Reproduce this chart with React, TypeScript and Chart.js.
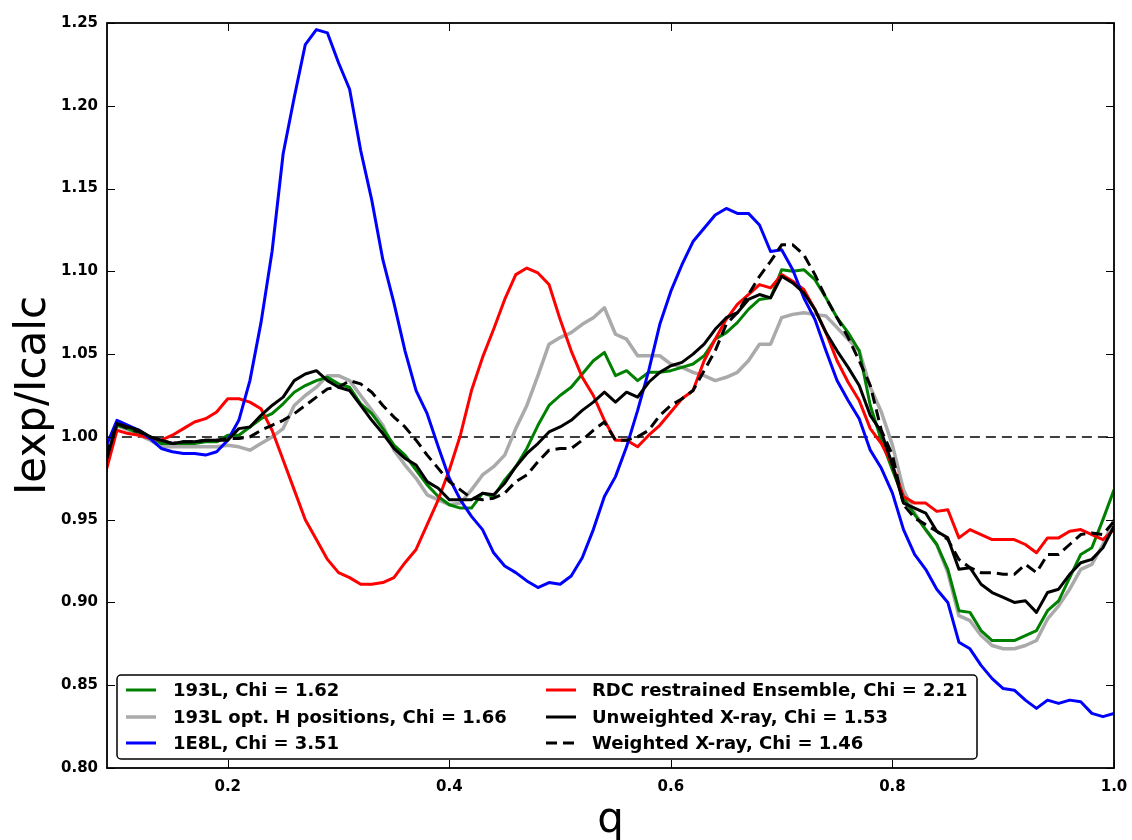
import React, { useEffect, useRef } from "react";
import { Chart, registerables } from "chart.js";

Chart.register(...registerables);

const Q = [
  0.09, 0.10, 0.11, 0.12, 0.13, 0.14, 0.15, 0.16, 0.17, 0.18,
  0.19, 0.20, 0.21, 0.22, 0.23, 0.24, 0.25, 0.26, 0.27, 0.28,
  0.29, 0.30, 0.31, 0.32, 0.33, 0.34, 0.35, 0.36, 0.37, 0.38,
  0.39, 0.40, 0.41, 0.42, 0.43, 0.44, 0.45, 0.46, 0.47, 0.48,
  0.49, 0.50, 0.51, 0.52, 0.53, 0.54, 0.55, 0.56, 0.57, 0.58,
  0.59, 0.60, 0.61, 0.62, 0.63, 0.64, 0.65, 0.66, 0.67, 0.68,
  0.69, 0.70, 0.71, 0.72, 0.73, 0.74, 0.75, 0.76, 0.77, 0.78,
  0.79, 0.80, 0.81, 0.82, 0.83, 0.84, 0.85, 0.86, 0.87, 0.88,
  0.89, 0.90, 0.91, 0.92, 0.93, 0.94, 0.95, 0.96, 0.97, 0.98,
  0.99, 1.00,
];

const Y_193L = [
  0.985, 1.007, 1.005, 1.002, 1.000, 0.996, 0.996, 0.996, 0.996, 0.997,
  0.997, 1.001, 1.001, 1.006, 1.011, 1.014, 1.020, 1.027, 1.031, 1.034,
  1.036, 1.032, 1.030, 1.020, 1.014, 1.005, 0.995, 0.989, 0.980, 0.971,
  0.964, 0.959, 0.957, 0.957, 0.966, 0.964, 0.974, 0.982, 0.993, 1.007,
  1.019, 1.025, 1.030, 1.038, 1.046, 1.051, 1.037, 1.040, 1.034, 1.039,
  1.039, 1.040, 1.042, 1.044, 1.049, 1.059, 1.063, 1.069, 1.077, 1.083,
  1.084, 1.101, 1.100, 1.101, 1.095, 1.084, 1.072, 1.063, 1.052, 1.019,
  0.998, 0.980, 0.963, 0.953, 0.944, 0.935, 0.920, 0.895, 0.894, 0.883,
  0.877, 0.877, 0.877, 0.880, 0.883, 0.895, 0.901, 0.915, 0.929, 0.933,
  0.950, 0.968,
];

const Y_193L_OPT_H = [
  0.987, 1.007, 1.004, 1.001, 0.998, 0.994, 0.994, 0.994, 0.994, 0.994,
  0.994, 0.995, 0.994, 0.992, 0.996, 1.000, 1.005, 1.019, 1.025, 1.030,
  1.037, 1.037, 1.034, 1.025, 1.016, 1.007, 0.992, 0.983, 0.975, 0.965,
  0.962, 0.959, 0.960, 0.968, 0.977, 0.982, 0.989, 1.005, 1.019, 1.037,
  1.056, 1.060, 1.063, 1.068, 1.072, 1.078, 1.062, 1.059, 1.049, 1.049,
  1.049, 1.044, 1.042, 1.039, 1.037, 1.034, 1.036, 1.039, 1.046, 1.056,
  1.056, 1.072, 1.074, 1.075, 1.074, 1.073, 1.066, 1.059, 1.052, 1.030,
  1.015, 0.995, 0.968, 0.954, 0.944, 0.935, 0.918, 0.892, 0.889, 0.880,
  0.874, 0.872, 0.872, 0.874, 0.877, 0.890, 0.898, 0.908, 0.920, 0.923,
  0.935, 0.950,
];

const Y_1E8L = [
  0.994, 1.010, 1.007, 1.004, 0.999, 0.993, 0.991, 0.990, 0.990, 0.989,
  0.991, 0.998, 1.010, 1.034, 1.069, 1.112, 1.171, 1.205, 1.237, 1.246,
  1.244, 1.226, 1.210, 1.173, 1.143, 1.107, 1.081, 1.052, 1.028, 1.014,
  0.994, 0.975, 0.962, 0.952, 0.944, 0.930, 0.922, 0.918, 0.913, 0.909,
  0.912, 0.911, 0.916, 0.927, 0.944, 0.964, 0.976, 0.994, 1.016, 1.040,
  1.068, 1.088, 1.104, 1.118, 1.126, 1.134, 1.138, 1.135, 1.135, 1.128,
  1.112, 1.113, 1.101, 1.084, 1.071, 1.052, 1.034, 1.022, 1.011, 0.992,
  0.981, 0.966, 0.944, 0.929, 0.920, 0.908, 0.900, 0.876, 0.872, 0.862,
  0.854, 0.848, 0.847, 0.841, 0.836, 0.841, 0.839, 0.841, 0.840, 0.833,
  0.831, 0.833,
];

const Y_RDC = [
  0.979, 1.004, 1.002, 1.001, 0.999, 0.998, 1.001, 1.005, 1.009, 1.011,
  1.015, 1.023, 1.023, 1.021, 1.017, 1.004, 0.986, 0.968, 0.950, 0.938,
  0.926, 0.918, 0.915, 0.911, 0.911, 0.912, 0.915, 0.924, 0.932, 0.947,
  0.962, 0.980, 1.001, 1.028, 1.048, 1.065, 1.083, 1.098, 1.102, 1.099,
  1.092, 1.071, 1.052, 1.036, 1.025, 1.010, 0.998, 0.998, 0.994, 1.001,
  1.007, 1.015, 1.023, 1.028, 1.046, 1.059, 1.071, 1.080, 1.086, 1.092,
  1.090, 1.098, 1.094, 1.089, 1.077, 1.063, 1.046, 1.033, 1.022, 1.005,
  0.996, 0.983, 0.964, 0.960, 0.960, 0.955, 0.956, 0.939, 0.944, 0.941,
  0.938, 0.938, 0.938, 0.935, 0.930, 0.939, 0.939, 0.943, 0.944, 0.941,
  0.938, 0.944,
];

const Y_UNWEIGHTED = [
  0.985, 1.008, 1.006, 1.004, 1.000, 0.998, 0.996, 0.997, 0.997, 0.998,
  0.998, 0.998, 1.005, 1.006, 1.013, 1.019, 1.024, 1.034, 1.038, 1.040,
  1.034, 1.030, 1.028, 1.019, 1.010, 1.002, 0.993, 0.987, 0.983, 0.973,
  0.969, 0.962, 0.962, 0.962, 0.966, 0.965, 0.972, 0.982, 0.990, 0.996,
  1.003, 1.006, 1.010, 1.016, 1.021, 1.027, 1.021, 1.027, 1.024, 1.033,
  1.039, 1.043, 1.045, 1.050, 1.056, 1.065, 1.072, 1.075, 1.083, 1.086,
  1.084, 1.097, 1.093, 1.087, 1.077, 1.063, 1.052, 1.042, 1.031, 1.013,
  1.003, 0.983, 0.960, 0.957, 0.954, 0.943, 0.939, 0.920, 0.921, 0.911,
  0.906, 0.903, 0.900, 0.901, 0.894, 0.906, 0.908, 0.917, 0.924, 0.926,
  0.933, 0.946,
];

const Y_WEIGHTED = [
  0.989, 1.008, 1.005, 1.003, 1.000, 0.998, 0.996, 0.997, 0.997, 0.998,
  0.998, 0.999, 0.999, 1.000, 1.004, 1.007, 1.010, 1.014, 1.019, 1.024,
  1.029, 1.030, 1.034, 1.032, 1.027, 1.019, 1.012, 1.006, 0.998, 0.989,
  0.981, 0.973, 0.968, 0.963, 0.962, 0.963, 0.966, 0.973, 0.977, 0.985,
  0.992, 0.993, 0.993, 0.998, 1.004, 1.009, 0.998, 0.998, 1.000, 1.004,
  1.013, 1.019, 1.023, 1.028, 1.040, 1.052, 1.068, 1.075, 1.086, 1.097,
  1.106, 1.116, 1.116, 1.110, 1.098, 1.084, 1.072, 1.060, 1.046, 1.031,
  1.004, 0.989, 0.959, 0.951, 0.947, 0.943, 0.938, 0.926, 0.921, 0.918,
  0.918, 0.917, 0.917, 0.923, 0.918, 0.929, 0.929, 0.935, 0.941, 0.942,
  0.941, 0.949,
];

const X_TICKS = [0.2, 0.4, 0.6, 0.8, 1.0];
const Y_TICKS = [0.8, 0.85, 0.9, 0.95, 1.0, 1.05, 1.1, 1.15, 1.2, 1.25];
const REF_LEVEL = 1.0;

const LABELS = [
  "193L, Chi = 1.62",
  "193L opt. H positions, Chi = 1.66",
  "1E8L, Chi = 3.51",
  "RDC restrained Ensemble, Chi = 2.21",
  "Unweighted X-ray, Chi = 1.53",
  "Weighted X-ray, Chi = 1.46",
];

const SERIES_VALUES = [Y_193L, Y_193L_OPT_H, Y_1E8L, Y_RDC, Y_UNWEIGHTED, Y_WEIGHTED];
const COLORS = ["#008000", "#aaaaaa", "#0000ff", "#ff0000", "#000000", "#000000"];
const WIDTHS = [3, 3.5, 3, 3, 3, 3];
const DASHES: number[][] = [[], [], [], [], [], [11, 6]];
// drawing priority: lower = drawn on top
const ORDERS = [4, 5, 2, 3, 1, 0];

const FONT = '"DejaVu Sans", "Liberation Sans", sans-serif';

const framePlugin = {
  id: "frameAndLegend",
  afterDraw(chart: any) {
    const { ctx, chartArea: a, scales } = chart;
    const xs = scales.x;
    const ys = scales.y;
    ctx.save();
    ctx.strokeStyle = "#000";
    ctx.lineWidth = 1;
    ctx.setLineDash([]);
    const tl = 8;
    X_TICKS.forEach((v) => {
      const px = Math.round(xs.getPixelForValue(v)) + 0.5;
      ctx.beginPath();
      ctx.moveTo(px, a.bottom);
      ctx.lineTo(px, a.bottom - tl);
      ctx.moveTo(px, a.top);
      ctx.lineTo(px, a.top + tl);
      ctx.stroke();
    });
    Y_TICKS.forEach((v) => {
      const py = Math.round(ys.getPixelForValue(v)) + 0.5;
      ctx.beginPath();
      ctx.moveTo(a.left, py);
      ctx.lineTo(a.left + tl, py);
      ctx.moveTo(a.right, py);
      ctx.lineTo(a.right - tl, py);
      ctx.stroke();
    });
    ctx.lineWidth = 1.8;
    ctx.strokeRect(a.left, a.top, a.right - a.left, a.bottom - a.top);

    // legend
    const bx = a.left + 10;
    const by = a.bottom - 93;
    const bw = 860;
    const bh = 84;
    ctx.beginPath();
    if ((ctx as any).roundRect) (ctx as any).roundRect(bx, by, bw, bh, 4);
    else ctx.rect(bx, by, bw, bh);
    ctx.fillStyle = "#ffffff";
    ctx.fill();
    ctx.lineWidth = 1.5;
    ctx.strokeStyle = "#000";
    ctx.stroke();

    const colHandle = [a.left + 19, a.left + 439];
    const colText = [a.left + 66, a.left + 485];
    const rowY = [a.bottom - 78, a.bottom - 51, a.bottom - 25];
    ctx.font = `bold 18px ${FONT}`;
    ctx.textBaseline = "middle";
    ctx.textAlign = "left";
    LABELS.forEach((label, i) => {
      const col = Math.floor(i / 3);
      const row = i % 3;
      const y = rowY[row];
      ctx.beginPath();
      ctx.strokeStyle = COLORS[i];
      ctx.lineWidth = WIDTHS[i];
      ctx.setLineDash(DASHES[i]);
      ctx.moveTo(colHandle[col], y);
      ctx.lineTo(colHandle[col] + 30, y);
      ctx.stroke();
      ctx.setLineDash([]);
      ctx.fillStyle = "#000";
      ctx.fillText(label, colText[col], y + 1);
    });
    ctx.restore();
  },
};

export default function App() {
  const ref = useRef<HTMLCanvasElement | null>(null);

  useEffect(() => {
    if (!ref.current) return;
    const datasets: any[] = SERIES_VALUES.map((vals, i) => ({
      label: LABELS[i],
      data: Q.map((q, k) => ({ x: q, y: vals[k] })),
      borderColor: COLORS[i],
      backgroundColor: COLORS[i],
      borderWidth: WIDTHS[i],
      borderDash: DASHES[i],
      pointRadius: 0,
      tension: 0,
      fill: false,
      order: ORDERS[i],
      borderJoinStyle: "round",
    }));
    datasets.push({
      label: "reference",
      data: [
        { x: Q[0], y: REF_LEVEL },
        { x: Q[Q.length - 1], y: REF_LEVEL },
      ],
      borderColor: "#000",
      borderWidth: 1.5,
      borderDash: [10, 6],
      pointRadius: 0,
      fill: false,
      order: 10,
    });

    const chart = new Chart(ref.current, {
      type: "line",
      data: { datasets },
      plugins: [framePlugin],
      options: {
        animation: false,
        responsive: false,
        events: [],
        layout: { padding: { left: 0, top: 23, right: 18, bottom: 0 } },
        plugins: { legend: { display: false }, tooltip: { enabled: false } },
        scales: {
          x: {
            type: "linear",
            min: 0.091,
            max: 1.0,
            grid: { display: false, drawTicks: false },
            border: { display: false },
            afterBuildTicks: (s: any) => {
              s.ticks = X_TICKS.map((v) => ({ value: v }));
            },
            afterFit: (s: any) => {
              s.height = 72;
              s.paddingLeft = 0;
              s.paddingRight = 0;
            },
            ticks: {
              color: "#000",
              padding: 10,
              font: { family: FONT, size: 15, weight: "bold" },
              callback: (v: any) => Number(v).toFixed(1),
            },
            title: {
              display: true,
              text: "q",
              color: "#000",
              padding: { top: 0, bottom: -6 },
              font: { family: FONT, size: 42, weight: "normal" },
            },
          },
          y: {
            type: "linear",
            min: 0.8,
            max: 1.25,
            grid: { display: false, drawTicks: false },
            border: { display: false },
            afterBuildTicks: (s: any) => {
              s.ticks = Y_TICKS.map((v) => ({ value: v }));
            },
            afterFit: (s: any) => {
              s.width = 107;
              s.paddingTop = 0;
              s.paddingBottom = 0;
            },
            ticks: {
              color: "#000",
              padding: 9,
              font: { family: FONT, size: 15, weight: "bold" },
              callback: (v: any) => Number(v).toFixed(2),
            },
            title: {
              display: true,
              text: "Iexp/Icalc",
              color: "#000",
              padding: { top: 9, bottom: 0 },
              font: { family: FONT, size: 42, weight: "normal" },
            },
          },
        },
      },
    } as any);
    return () => chart.destroy();
  }, []);

  return (
    <div style={{ position: "absolute", left: 0, top: 0, width: 1132, height: 840, background: "#fff" }}>
      <canvas ref={ref} width={1132} height={840} style={{ display: "block" }} />
    </div>
  );
}
